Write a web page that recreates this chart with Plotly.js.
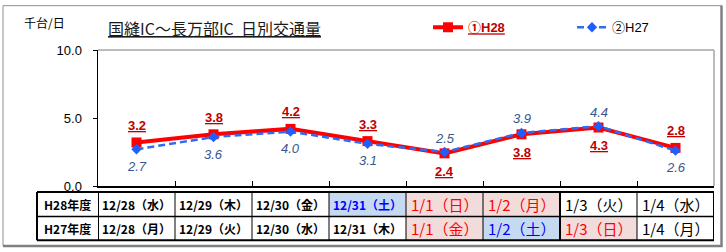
<!DOCTYPE html>
<html><head><meta charset="utf-8">
<script src="https://cdn.plot.ly/plotly-3.0.1.min.js"></script>
<style>html,body{margin:0;padding:0;background:#fff}#chart{width:726px;height:252px}</style>
</head><body><div id="chart"></div>
<script>
// ---- data ----
const categories = ['12/28','12/29','12/30','12/31','1/1','1/2','1/3','1/4'];
const h28Values = [3.2, 3.8, 4.2, 3.3, 2.4, 3.8, 4.3, 2.8];
const h27Values = [2.7, 3.6, 4.0, 3.1, 2.5, 3.9, 4.4, 2.6];
const h28Days = ['12/28（水）','12/29（木）','12/30（金）','12/31（土）','1/1（日）','1/2（月）','1/3（火）','1/4（水）'];
const h27Days = ['12/28（月）','12/29（火）','12/30（水）','12/31（木）','1/1（金）','1/2（土）','1/3（日）','1/4（月）'];
const rowHeaders = ['H28年度','H27年度'];
const seriesNames = ['①H28','②H27'];
const yTickValues = [0, 5, 10];
const yTickText = ['0.0','5.0','10.0'];
const titleText = '国縫IC～長万部IC\u00a0\u00a0日別交通量';
const unitText = '千台/日';

// ---- styling helpers (not data) ----
const h28DayType = ['','','','sat','hol','hol','',''];
const h27DayType = ['','','','','hol','sat','hol',''];
const h28LabelPos = ['up','up','up','up','down','down','down','up'];
const h27LabelPos = ['down','down','down','down','up','up','up','down'];

const L = 98, R = 714, T = 48, B = 186, W = 726, H = 252;
const px = p => (p - L) / (R - L);
const py = p => (B - p) / (B - T);

const latin = 'Liberation Sans, Arial, Noto Sans CJK JP, sans-serif';
const cjk = 'Noto Sans CJK JP, sans-serif';

const traces = [
  {x: categories, y: h28Values, type: 'scatter', mode: 'lines+markers', name: '<b><u>' + seriesNames[0] + '</u></b>',
   legend: 'legend', line: {color: '#FF0000', width: 4}, marker: {symbol: 'square', size: 10, color: '#FF0000'}},
  {x: categories, y: h27Values, type: 'scatter', mode: 'lines+markers', name: seriesNames[1],
   legend: 'legend2', line: {color: '#2E6CF6', width: 2.5, dash: '7px,4px'}, marker: {symbol: 'diamond', size: 8, color: '#1F5FFF'}}
];

const annotations = [];
const shapes = [];

// data labels
categories.forEach((c, i) => {
  annotations.push({x: c, y: h28Values[i], xref: 'x', yref: 'y', showarrow: false, xanchor: 'center', yanchor: 'middle',
    text: '<b><u>' + h28Values[i].toFixed(1) + '</u></b>', yshift: h28LabelPos[i] === 'up' ? 17 : -18,
    font: {family: latin, size: 13, color: '#C00000'}});
  annotations.push({x: c, y: h27Values[i], xref: 'x', yref: 'y', showarrow: false, xanchor: 'center', yanchor: 'middle',
    text: '<i>' + h27Values[i].toFixed(1) + '</i>', yshift: h27LabelPos[i] === 'up' ? 14 : -17,
    font: {family: latin, size: 13, color: '#35578F'}});
});

// title and unit
annotations.push({xref: 'paper', yref: 'paper', x: px(106), y: py(25.5), xanchor: 'left', yanchor: 'middle',
  showarrow: false, text: '<u>' + titleText + '</u>', font: {family: cjk, size: 16, color: '#1a1a1a'}});
annotations.push({xref: 'paper', yref: 'paper', x: px(22), y: py(20), xanchor: 'left', yanchor: 'middle',
  showarrow: false, text: unitText, font: {family: cjk, size: 12, color: '#000'}});

// table
const rowTop = [192, 217], rowBot = [217, 241];
const rows = [h28Days, h27Days], rowTypes = [h28DayType, h27DayType];
const fillColor = {sat: '#C5D9F1', hol: '#F2DCDB'};
const textColor = {sat: '#0000FF', hol: '#FF0000', '': '#000000'};
rows.forEach((row, r) => {
  row.forEach((t, i) => {
    const ty = rowTypes[r][i];
    if (ty) shapes.push({type: 'rect', xref: 'x', yref: 'paper', x0: i - 0.5, x1: i + 0.5,
      y0: py(rowTop[r]), y1: py(rowBot[r]), fillcolor: fillColor[ty], line: {width: 0}});
    const big = i >= 4;
    annotations.push({xref: 'x', yref: 'paper', x: categories[i], y: py((rowTop[r] + rowBot[r]) / 2 + 0.5),
      xanchor: 'center', yanchor: 'middle', showarrow: false, text: big ? t : '<b>' + t + '</b>',
      font: {family: cjk, size: big ? 15 : 12, color: textColor[ty]}});
  });
  annotations.push({xref: 'paper', yref: 'paper', x: px(67.5), y: py((rowTop[r] + rowBot[r]) / 2 + 0.5),
    xanchor: 'center', yanchor: 'middle', showarrow: false, text: '<b>' + rowHeaders[r] + '</b>',
    font: {family: cjk, size: 12, color: '#000'}});
});
// table grid lines
[192, 217, 241].forEach((y, k) => shapes.push({type: 'line', xref: 'paper', yref: 'paper',
  x0: px(37), x1: px(R), y0: py(y), y1: py(y), line: {color: '#000', width: k === 1 ? 1.5 : 2}}));
shapes.push({type: 'line', xref: 'paper', yref: 'paper', x0: px(37), x1: px(37), y0: py(192), y1: py(241), line: {color: '#000', width: 2}});
for (let i = 0; i <= categories.length; i++) {
  const thick = (i === 0 || i === 6 || i === categories.length);
  shapes.push({type: 'line', xref: 'x', yref: 'paper', x0: i - 0.5, x1: i - 0.5, y0: py(192), y1: py(241),
    line: {color: '#000', width: thick ? 2 : 1}});
}
// plot frame top/right in gray
shapes.push({type: 'line', xref: 'paper', yref: 'paper', x0: 0, x1: 1, y0: 1, y1: 1, line: {color: '#A6A6A6', width: 1.5}});
shapes.push({type: 'line', xref: 'paper', yref: 'paper', x0: 1, x1: 1, y0: 0, y1: 1, line: {color: '#A6A6A6', width: 1.5}});
// outer chart border
shapes.push({type: 'line', xref: 'paper', yref: 'paper', x0: px(3), x1: px(722), y0: py(3), y1: py(3), line: {color: '#909090', width: 1}});
shapes.push({type: 'line', xref: 'paper', yref: 'paper', x0: px(3), x1: px(3), y0: py(3), y1: py(247), line: {color: '#909090', width: 1}});
shapes.push({type: 'line', xref: 'paper', yref: 'paper', x0: px(721.5), x1: px(721.5), y0: py(3), y1: py(247.5), line: {color: '#808080', width: 2.5}});
shapes.push({type: 'line', xref: 'paper', yref: 'paper', x0: px(3), x1: px(722.5), y0: py(247), y1: py(247), line: {color: '#808080', width: 2.5}});

const layout = {
  width: W, height: H,
  margin: {l: L, r: W - R, t: T, b: H - B, pad: 0},
  paper_bgcolor: '#fff', plot_bgcolor: '#fff',
  showlegend: true,
  xaxis: {type: 'category', range: [-0.5, 7.5], showline: true, linecolor: '#000', linewidth: 1.5,
    ticks: 'inside', tickson: 'boundaries', ticklen: 5, tickcolor: '#000', tickwidth: 1,
    showticklabels: false, showgrid: false, zeroline: false, fixedrange: true},
  yaxis: {range: [0, 10], tickmode: 'array', tickvals: yTickValues, ticktext: yTickText,
    showline: true, linecolor: '#000', linewidth: 1.5, ticks: 'outside', ticklen: 4, tickcolor: '#000',
    ticklabelstandoff: 8, showgrid: false, zeroline: false, fixedrange: true,
    tickfont: {family: latin, size: 13, color: '#000'}},
  legend: {x: px(428), xanchor: 'left', y: py(25), yanchor: 'middle', orientation: 'h',
    bgcolor: 'rgba(0,0,0,0)', borderwidth: 0, font: {family: latin, size: 13, color: '#C00000'}},
  legend2: {x: px(572), xanchor: 'left', y: py(25), yanchor: 'middle', orientation: 'h',
    bgcolor: 'rgba(0,0,0,0)', borderwidth: 0, font: {family: latin, size: 13, color: '#000'}},
  annotations: annotations,
  shapes: shapes
};

Plotly.newPlot('chart', traces, layout, {staticPlot: true, displayModeBar: false});
</script>
</body></html>
